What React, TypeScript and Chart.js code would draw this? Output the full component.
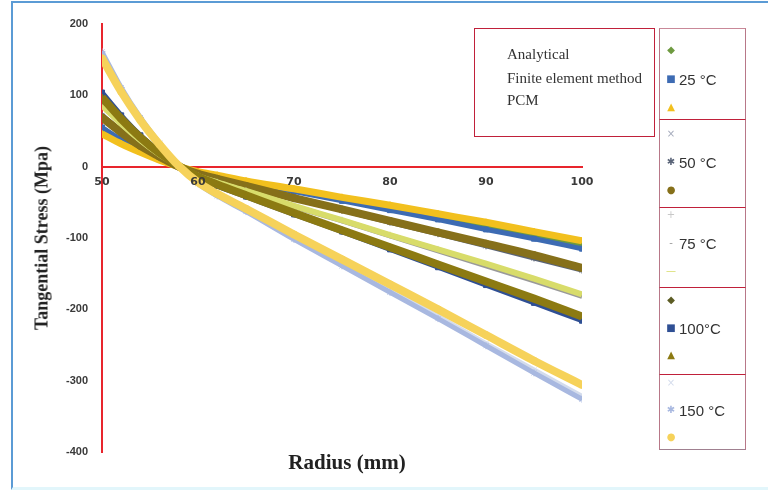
import React, { useEffect, useRef } from "react";
import { Chart, registerables } from "chart.js";

Chart.register(...registerables);

// ---------- data ----------
const radius = [50, 52, 54, 56, 58, 60, 62, 65, 70, 75, 80, 85, 90, 95, 100];

const methods = ["Analytical", "Finite element method", "PCM"];
const temperatures = ["25 °C", "50 °C", "75 °C", "100°C", "150 °C"];

const analytical25 = [50, 35, 21, 10, 0, -8, -13, -21, -33, -46, -58, -71, -84, -97, -110];
const fem25 = [55, 38, 23, 11, 0, -8, -14, -22, -35, -48, -61, -74, -88, -101, -115];
const pcm25 = [46, 32, 20, 9, 0, -7, -12, -20, -31, -43, -54, -66, -78, -91, -104];

const analytical50 = [70, 48, 29, 14, 0, -10, -17, -27, -44, -60, -76, -92, -109, -125, -142];
const fem50 = [72, 50, 30, 14, 0, -10, -18, -28, -45, -61, -78, -94, -111, -128, -145];
const pcm50 = [69, 48, 29, 14, 0, -10, -17, -27, -44, -60, -76, -92, -108, -124, -142];

const analytical75 = [87, 60, 37, 17, 1, -13, -22, -34, -55, -75, -96, -116, -137, -158, -180];
const fem75 = [88, 61, 38, 18, 1, -13, -22, -35, -56, -76, -97, -118, -139, -160, -182];
const pcm75 = [86, 60, 37, 17, 1, -13, -22, -34, -55, -75, -96, -116, -136, -157, -179];

const analytical100 = [101, 70, 43, 20, 1, -15, -26, -41, -66, -90, -114, -138, -163, -188, -211];
const fem100 = [104, 72, 44, 21, 1, -15, -27, -42, -67, -91, -116, -141, -166, -191, -216];
const pcm100 = [97, 67, 41, 19, 1, -14, -25, -40, -65, -89, -113, -137, -161, -185, -210];

const analytical150 = [158, 109, 67, 32, 1, -23, -40, -62, -100, -136, -173, -210, -248, -285, -322];
const fem150 = [161, 111, 69, 33, 1, -24, -41, -63, -102, -139, -176, -213, -251, -289, -326];
const pcm150 = [152, 105, 65, 31, 1, -22, -38, -59, -95, -130, -165, -200, -236, -272, -306];

const xMin = 50;
const xMax = 100;
const xStep = 10;
const yMin = -400;
const yMax = 200;
const yStep = 100;

// ---------- styles ----------
type S = { values: number[]; temp: number; method: number; color: string; style: any; glyph: string; width: number };
const seriesTable: S[] = [
  { values: analytical25, temp: 0, method: 0, color: "#6e9a40", style: "rectRot", glyph: "◆", width: 5 },
  { values: fem25, temp: 0, method: 1, color: "#3d6bb3", style: "rect", glyph: "■", width: 5 },
  { values: pcm25, temp: 0, method: 2, color: "#f2c01e", style: "triangle", glyph: "▲", width: 7 },
  { values: analytical50, temp: 1, method: 0, color: "#a4aabb", style: "crossRot", glyph: "×", width: 5 },
  { values: fem50, temp: 1, method: 1, color: "#5a6478", style: "star", glyph: "✱", width: 5 },
  { values: pcm50, temp: 1, method: 2, color: "#86701a", style: "circle", glyph: "●", width: 8 },
  { values: analytical75, temp: 2, method: 0, color: "#c8c8c8", style: "cross", glyph: "+", width: 5 },
  { values: fem75, temp: 2, method: 1, color: "#9a9a9a", style: "line", glyph: "-", width: 5 },
  { values: pcm75, temp: 2, method: 2, color: "#d8dc6a", style: "line", glyph: "—", width: 6 },
  { values: analytical100, temp: 3, method: 0, color: "#5c5c24", style: "rectRot", glyph: "◆", width: 5 },
  { values: fem100, temp: 3, method: 1, color: "#2f4f94", style: "rect", glyph: "■", width: 5 },
  { values: pcm100, temp: 3, method: 2, color: "#8c7a12", style: "triangle", glyph: "▲", width: 8 },
  { values: analytical150, temp: 4, method: 0, color: "#d4dcec", style: "crossRot", glyph: "×", width: 5 },
  { values: fem150, temp: 4, method: 1, color: "#a8b8e0", style: "star", glyph: "✱", width: 5 },
  { values: pcm150, temp: 4, method: 2, color: "#f6d25a", style: "circle", glyph: "●", width: 8 },
];

// legend layout
const groupTops = [28, 119, 207, 287, 374, 450];
const groupRows = [
  [50, 79, 107],
  [134, 162, 190],
  [215, 243, 271],
  [300, 328, 355],
  [383, 410, 437],
];

const abs = (o: React.CSSProperties): React.CSSProperties => ({ position: "absolute", ...o });

export default function App() {
  const ref = useRef<HTMLCanvasElement | null>(null);

  useEffect(() => {
    if (!ref.current) return;
    const chart = new Chart(ref.current, {
      type: "line",
      data: {
        datasets: seriesTable.map((s, k) => ({
          label: `${methods[s.method]} ${temperatures[s.temp]}`,
          data: radius.map((r, i) => ({ x: r, y: s.values[i] })),
          order: seriesTable.length - k,
          borderColor: s.color,
          backgroundColor: s.color,
          borderWidth: s.width,
          pointStyle: s.style,
          pointRadius: 3.5,
          pointBorderColor: s.color,
          pointBackgroundColor: s.color,
          pointBorderWidth: 1,
          cubicInterpolationMode: "monotone",
          fill: false,
        })),
      },
      options: {
        animation: false,
        responsive: false,
        maintainAspectRatio: false,
        layout: { padding: { left: 12, top: 24, right: 186, bottom: 38 } },
        plugins: { legend: { display: false }, tooltip: { enabled: false }, title: { display: false } },
        scales: {
          x: {
            type: "linear",
            min: xMin,
            max: xMax,
            position: { y: 0 } as any,
            grid: { display: false, drawTicks: false },
            border: { display: true, color: "#e8252d", width: 2 },
            ticks: {
              stepSize: xStep,
              padding: 9,
              z: 1,
              color: "#3a3a3a",
              font: { family: "DejaVu Sans", weight: "bold", size: 11 },
              maxRotation: 0,
            },
          },
          y: {
            type: "linear",
            min: yMin,
            max: yMax,
            grid: { display: false, drawTicks: false },
            border: { display: true, color: "#e8252d", width: 2 },
            ticks: {
              stepSize: yStep,
              padding: 14,
              color: "#3a3a3a",
              font: { family: "Liberation Sans", weight: "bold", size: 11 },
            },
            afterFit: (scale: any) => {
              scale.width = 90;
            },
          },
        },
      },
    });
    return () => chart.destroy();
  }, []);

  return (
    <div style={abs({ left: 0, top: 0, width: 768, height: 490, background: "#fff", overflow: "hidden" })}>
      <div
        style={abs({
          left: 11,
          top: 1,
          width: 757,
          height: 484,
          borderLeft: "2px solid #5b9bd5",
          borderTop: "2px solid #5b9bd5",
          borderBottom: "3px solid #e2f6fb",
        })}
      />
      <canvas ref={ref} width={768} height={490} style={abs({ left: 0, top: 0, width: 768, height: 490 })} />

      {/* axis titles */}
      <div
        style={abs({
          left: 42,
          top: 238,
          transform: "translate(-50%, -50%) rotate(-90deg)",
          whiteSpace: "nowrap",
          font: "bold 18px 'Liberation Serif', serif",
          color: "#222",
        })}
      >
        Tangential Stress (Mpa)
      </div>
      <div
        style={abs({
          left: 347,
          top: 462,
          transform: "translate(-50%, -50%)",
          whiteSpace: "nowrap",
          font: "bold 21px 'Liberation Serif', serif",
          color: "#222",
        })}
      >
        Radius (mm)
      </div>

      {/* method legend box */}
      <div style={abs({ left: 474, top: 28, width: 179, height: 107, border: "1.5px solid #c0203a" })} />
      {methods.map((m, i) => (
        <div
          key={m}
          style={abs({
            left: 507,
            top: [54, 78, 100][i],
            transform: "translateY(-50%)",
            whiteSpace: "nowrap",
            font: "15px 'Liberation Serif', serif",
            color: "#333",
          })}
        >
          {m}
        </div>
      ))}

      {/* temperature legend column */}
      {temperatures.map((t, g) => (
        <div
          key={t}
          style={abs({
            left: 659,
            top: groupTops[g],
            width: 87,
            height: groupTops[g + 1] - groupTops[g],
            borderLeft: "1.5px solid #b87888",
            borderRight: "1.5px solid #b87888",
            borderTop: g === 0 ? "1.5px solid #c98898" : "1.5px solid #c0203a",
            borderBottom: g === temperatures.length - 1 ? "1.5px solid #a08090" : "none",
            boxSizing: "border-box",
          })}
        />
      ))}
      {seriesTable.map((s, k) => (
        <div
          key={"g" + k}
          style={abs({
            left: 671,
            top: groupRows[s.temp][s.method],
            transform: "translate(-50%, -50%)",
            font: "10px 'DejaVu Sans', sans-serif",
            color: s.color,
            lineHeight: 1,
          })}
        >
          {s.glyph}
        </div>
      ))}
      {temperatures.map((t, g) => (
        <div
          key={"t" + t}
          style={abs({
            left: 679,
            top: groupRows[g][1],
            transform: "translateY(-50%)",
            whiteSpace: "nowrap",
            font: "15px 'Liberation Sans', sans-serif",
            color: "#333",
          })}
        >
          {t}
        </div>
      ))}
    </div>
  );
}
